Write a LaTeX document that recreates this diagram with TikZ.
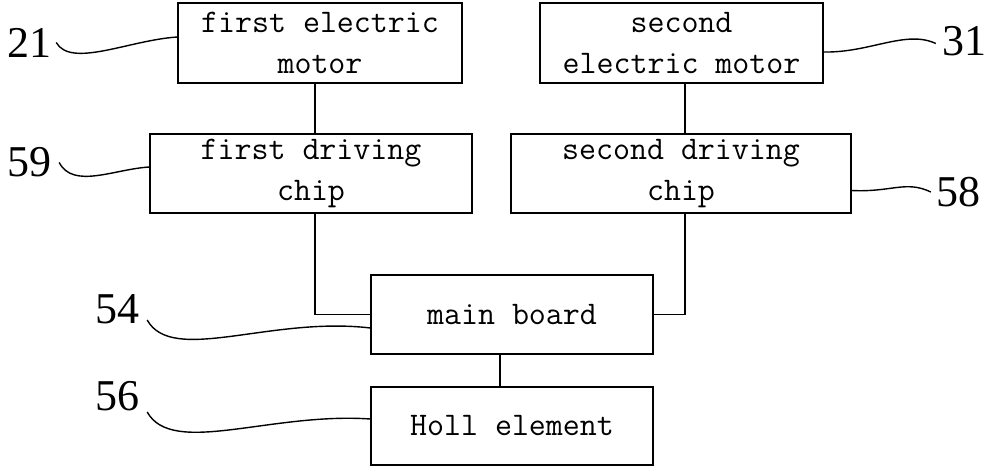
\documentclass[tikz,border=0pt]{standalone}
\usepackage{fontspec}
\setmainfont{Liberation Serif}
\usetikzlibrary{calc}

\begin{document}
\begin{tikzpicture}[
            x=1pt, y=-1pt,
            blk/.style={draw, line width=1.1pt, inner sep=0pt, align=center,
            font=\ttfamily\fontsize{33}{41}\selectfont, minimum height=79pt},
            num/.style={inner sep=0pt, font=\fontsize{44}{44}\selectfont},
            wire/.style={line width=1.1pt},
            lead/.style={line width=1.4pt}
        ]
            \useasboundingbox (0,0) rectangle (997,466);

% Motors and driving chips
            \node[blk, minimum width=284pt, minimum height=80pt] (m1) at (320,43)    {first electric\\motor};
            \node[blk, minimum width=322pt]                     (d1) at (311,173.5) {first driving\\chip};
            \node[blk, minimum width=283pt, minimum height=80pt] (m2) at (681.5,43)  {second\\electric motor};
            \node[blk, minimum width=340pt]                     (d2) at (681,173.5) {second driving\\chip};

% Main board and sensor
            \node[blk, minimum width=282pt]                     (mb) at (512,314.5) {main board};
            \node[blk, minimum width=282pt, minimum height=78pt] (he) at (512,426)   {Holl element};

% Reference numerals
            \node[num] (n21) at (29,42.5)  {21};
            \node[num] (n59) at (29,162.5) {59};
            \node[num] (n31) at (964,41.5) {31};
            \node[num] (n58) at (958,192)  {58};
            \node[num] (n54) at (117,309)  {54};
            \node[num] (n56) at (117,396.5) {56};

% Wiring
            \draw[wire] ([xshift=-5pt]m1.south) -- ([xshift=-5pt]m1.south |- d1.north);
            \draw[wire] ([xshift=-5pt]m1.south |- d1.south) |- (mb.west);
            \draw[wire] ([xshift=3.5pt]m2.south) -- ([xshift=3.5pt]m2.south |- d2.north);
            \draw[wire] ([xshift=3.5pt]m2.south |- d2.south) |- (mb.east);
            \draw[wire] ([xshift=-12pt]mb.south) -- ([xshift=-12pt]mb.south |- he.north);

% Leader lines
            \draw[lead] ([xshift=5pt]n21.east) .. controls +(15,26) and +(-48,3) .. ([yshift=6pt]m1.west);
            \draw[lead] ([xshift=8pt]n59.east) .. controls +(14,27) and +(-35,2) .. ([yshift=6.5pt]d1.west);
            \draw[lead] ([yshift=-9pt]m2.east) .. controls +(46,1) and +(-30,-14) .. ([xshift=-6pt,yshift=-2pt]n31.west);
            \draw[lead] ([yshift=-17pt]d2.east) .. controls +(40,2) and +(-25,-12) .. ([xshift=-5pt]n58.west);
            \draw[lead] ([xshift=8pt,yshift=-11pt]n54.east) .. controls +(25,45) and +(-100,-12) .. ([yshift=-13.5pt]mb.west);
            \draw[lead] ([xshift=8pt,yshift=-15.5pt]n56.east) .. controls +(25,45) and +(-100,-7) .. ([yshift=7pt]he.west);
        \end{tikzpicture}
\end{document}
